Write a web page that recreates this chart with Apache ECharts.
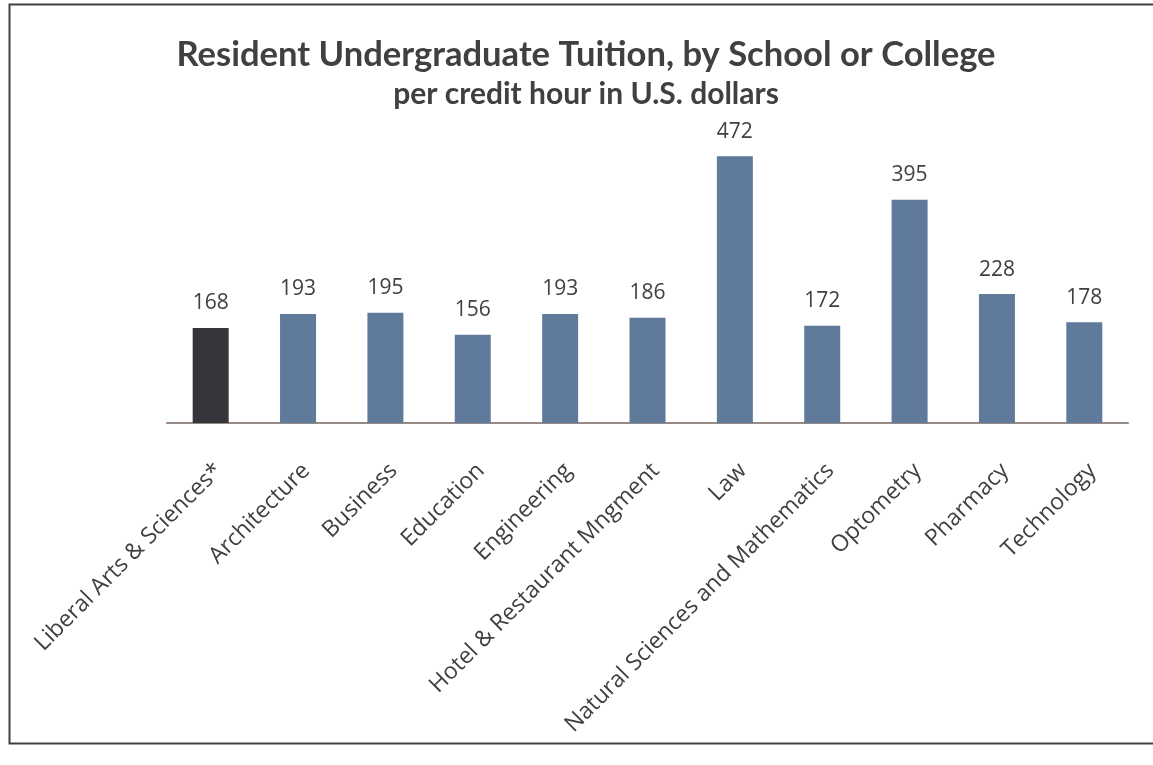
<!DOCTYPE html>
<html>
<head>
<meta charset="utf-8">
<script src="https://cdn.jsdelivr.net/npm/echarts@6/dist/echarts.min.js"></script>
<style>
html,body{margin:0;padding:0;background:#fff;}
#chart{width:1153px;height:765px;}
</style>
</head>
<body>
<div id="chart"></div>
<script>
const categories = ["Liberal Arts & Sciences*", "Architecture", "Business", "Education", "Engineering", "Hotel & Restaurant Mngment", "Law", "Natural Sciences and Mathematics", "Optometry", "Pharmacy", "Technology"];
const tuition = [168, 193, 195, 156, 193, 186, 472, 172, 395, 228, 178];
const highlightIndex = 0;

const chart = echarts.init(document.getElementById('chart'), null, {renderer: 'canvas'});
const option = {
  backgroundColor: '#ffffff',
  animation: false,
  title: [
    {
      text: 'Resident Undergraduate Tuition, by School or College',
      left: 581, top: 32, textAlign: 'center',
      textStyle: {fontFamily: 'Lato', fontWeight: 'bold', fontSize: 34.6, color: '#404040'}
    },
    {
      text: 'per credit hour in U.S. dollars',
      left: 581, top: 74, textAlign: 'center',
      textStyle: {fontFamily: 'Lato', fontWeight: 'bold', fontSize: 30, color: '#404040'}
    }
  ],
  graphic: [
    {type: 'rect', left: 7, top: 2, shape: {width: 1160, height: 739},
     style: {fill: 'none', stroke: '#404040', lineWidth: 2}, silent: true}
  ],
  grid: {left: 167, right: 25, top: 140.3, bottom: 342, containLabel: false},
  xAxis: {
    type: 'category',
    data: categories,
    axisLine: {show: true, lineStyle: {color: '#968a86', width: 2}},
    axisTick: {show: false},
    axisLabel: {
      interval: 0, rotate: 45, margin: 36, verticalAlign: 'top',
      fontFamily: 'Open Sans', fontSize: 23, color: '#404040'
    }
  },
  yAxis: {
    type: 'value', min: 0, max: 500, show: false,
    splitLine: {show: false}
  },
  series: [{
    type: 'bar',
    data: tuition.map((v, i) => ({
      value: v,
      itemStyle: {color: i === highlightIndex ? '#35353b' : '#607a9b'}
    })),
    barWidth: 36,
    label: {
      show: true, position: 'top', distance: 14,
      fontFamily: 'Open Sans', fontSize: 21, color: '#404040'
    }
  }]
};
chart.setOption(option);
</script>
</body>
</html>
